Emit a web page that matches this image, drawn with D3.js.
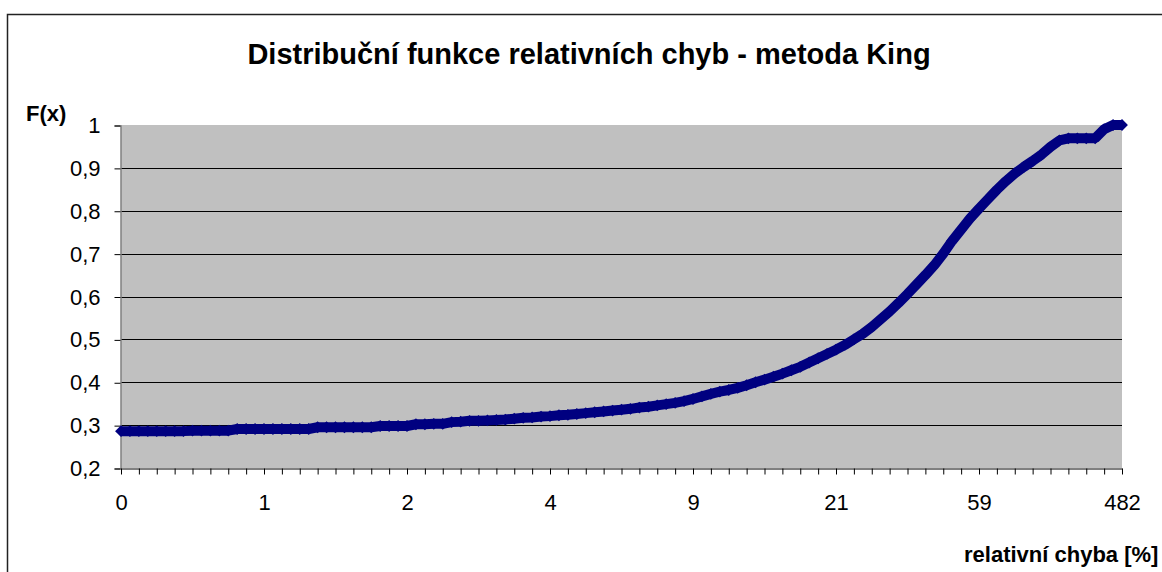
<!DOCTYPE html>
<html>
<head>
<meta charset="utf-8">
<script src="https://cdn.jsdelivr.net/npm/d3@7"></script>
<style>
  body { margin: 0; background: #fff; }
  svg { display: block; font-family: Arial, "Liberation Sans", sans-serif; }
</style>
</head>
<body>
<svg id="chart" width="1162" height="572"></svg>
<script>
// labels shown under every 16th point of the category axis
var xLabels = ["0", "1", "2", "4", "9", "21", "59", "482"];
var yTicks = [0.2, 0.3, 0.4, 0.5, 0.6, 0.7, 0.8, 0.9, 1];

// F(x), one value per category (113 points)
var fx = [
  0.286, 0.286, 0.286, 0.286, 0.286, 0.286, 0.286, 0.286, 0.287, 0.287,
  0.287, 0.287, 0.287, 0.291, 0.291, 0.291, 0.291, 0.291, 0.291, 0.291,
  0.291, 0.291, 0.295, 0.295, 0.295, 0.295, 0.295, 0.295, 0.295, 0.298,
  0.298, 0.298, 0.298, 0.302, 0.302, 0.303, 0.303, 0.307, 0.308, 0.310,
  0.310, 0.311, 0.312, 0.313, 0.315, 0.317, 0.318, 0.320, 0.321, 0.323,
  0.324, 0.326, 0.328, 0.330, 0.332, 0.334, 0.336, 0.338, 0.341, 0.343,
  0.346, 0.349, 0.352, 0.356, 0.361, 0.367, 0.373, 0.378, 0.382, 0.387,
  0.393, 0.400, 0.406, 0.413, 0.420, 0.428, 0.436, 0.446, 0.456, 0.466,
  0.476, 0.487, 0.500, 0.513, 0.529, 0.547, 0.565, 0.585, 0.606, 0.628,
  0.650, 0.673, 0.700, 0.730, 0.756, 0.782, 0.805, 0.827, 0.849, 0.869,
  0.887, 0.902, 0.916, 0.931, 0.949, 0.964, 0.969, 0.969, 0.969, 0.969,
  0.990, 1.000, 1.000
];

var svg = d3.select("#chart");
var plotLeft = 121, plotRight = 1122, plotTop = 125, plotBottom = 468;

var x = d3.scaleLinear()
  .domain([0, fx.length - 1])
  .range([plotLeft, plotRight]);

var y = d3.scaleLinear()
  .domain([0.2, 1])
  .range([plotBottom, plotTop]);

var comma = d3.formatLocale({ decimal: ",", thousands: " ", grouping: [3], currency: ["", ""] }).format("~g");

// outer chart border
svg.append("rect")
  .attr("x", 7.5).attr("y", 14.5)
  .attr("width", 1300).attr("height", 700)
  .attr("fill", "none")
  .attr("stroke", "#222")
  .attr("stroke-width", 1.5);

// plot area
svg.append("rect")
  .attr("x", plotLeft).attr("y", plotTop)
  .attr("width", plotRight - plotLeft).attr("height", plotBottom - plotTop)
  .attr("fill", "#c0c0c0");

// gridlines
svg.append("g").selectAll("line")
  .data(yTicks.filter(function(d) { return d > 0.2 && d < 1; }))
  .enter().append("line")
  .attr("x1", plotLeft).attr("x2", plotRight)
  .attr("y1", function(d) { return Math.round(y(d)) + 0.5; })
  .attr("y2", function(d) { return Math.round(y(d)) + 0.5; })
  .attr("stroke", "#000")
  .attr("stroke-width", 1);

// y axis
var yAxis = d3.axisLeft(y)
  .tickValues(yTicks)
  .tickSize(6)
  .tickPadding(14)
  .tickFormat(comma);

var gy = svg.append("g")
  .attr("transform", "translate(" + (plotLeft - 0.5) + ",0.5)")
  .call(yAxis);
gy.select(".domain").attr("stroke", "#808080").attr("stroke-width", 1.5);
gy.selectAll(".tick line").attr("stroke", "#000");
gy.selectAll(".tick text")
  .attr("font-size", 22)
  .attr("fill", "#000")
  .attr("font-family", "Arial, 'Liberation Sans', sans-serif");

// x axis (category axis: tick every 2 points, label every 16)
var xAxis = d3.axisBottom(x)
  .tickValues(d3.range(0, fx.length, 2))
  .tickSize(6)
  .tickSizeOuter(0)
  .tickFormat(function(d) { return d % 16 === 0 ? xLabels[d / 16] : ""; });

var gx = svg.append("g")
  .attr("transform", "translate(0," + (plotBottom + 0.5) + ")")
  .call(xAxis);
gx.select(".domain").attr("stroke", "#000");
gx.selectAll(".tick line").attr("stroke", "#000");
gx.selectAll(".tick text")
  .attr("y", 41)
  .attr("dy", 0)
  .attr("font-size", 22)
  .attr("fill", "#000")
  .attr("font-family", "Arial, 'Liberation Sans', sans-serif");

// series line with diamond markers
var line = d3.line()
  .x(function(d, i) { return x(i); })
  .y(function(d) { return y(d); });

svg.append("path")
  .datum(fx)
  .attr("d", line)
  .attr("fill", "none")
  .attr("stroke", "#000080")
  .attr("stroke-width", 10)
  .attr("stroke-linejoin", "bevel");

svg.append("g").selectAll("path")
  .data(fx)
  .enter().append("path")
  .attr("d", d3.symbol().type(d3.symbolSquare).size(70))
  .attr("transform", function(d, i) { return "translate(" + x(i) + "," + y(d) + ") rotate(45)"; })
  .attr("fill", "#000080");

// titles
svg.append("text")
  .attr("x", 589).attr("y", 64)
  .attr("text-anchor", "middle")
  .attr("font-size", 29)
  .attr("font-weight", "bold")
  .text("Distribuční funkce relativních chyb - metoda King");

svg.append("text")
  .attr("x", 26).attr("y", 121)
  .attr("font-size", 22)
  .attr("font-weight", "bold")
  .text("F(x)");

svg.append("text")
  .attr("x", 964).attr("y", 562)
  .attr("font-size", 22)
  .attr("font-weight", "bold")
  .text("relativní chyba [%]");
</script>
</body>
</html>
